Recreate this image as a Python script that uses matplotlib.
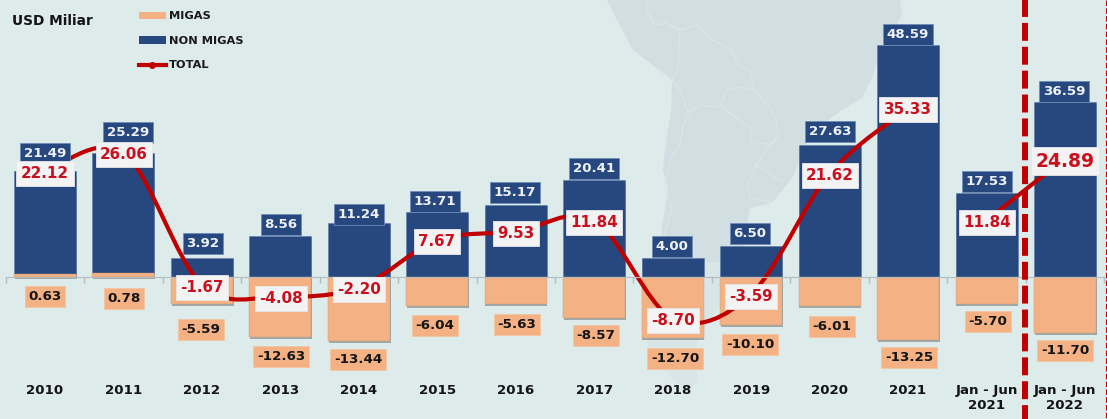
import matplotlib
matplotlib.use("Agg")
import matplotlib.pyplot as plt
import matplotlib.patheffects as pe
from matplotlib.path import Path
from matplotlib.patches import PathPatch, Polygon, Patch
from matplotlib.lines import Line2D
from matplotlib.transforms import Affine2D

categories = ["2010", "2011", "2012", "2013", "2014", "2015", "2016", "2017", "2018", "2019",
              "2020", "2021", "Jan - Jun\n2021", "Jan - Jun\n2022"]
migas = [0.63, 0.78, -5.59, -12.63, -13.44, -6.04, -5.63, -8.57, -12.70, -10.10, -6.01, -13.25, -5.70, -11.70]
non_migas = [21.49, 25.29, 3.92, 8.56, 11.24, 13.71, 15.17, 20.41, 4.00, 6.50, 27.63, 48.59, 17.53, 36.59]
total = [22.12, 26.06, -1.67, -4.08, -2.20, 7.67, 9.53, 11.84, -8.70, -3.59, 21.62, 35.33, 11.84, 24.89]

# label layout, in reference pixels
non_pos = [(45, 152), (128, 131), (203, 242), (281, 223), (359, 213), (435, 200), (515, 191),
           (594, 167), (672, 245), (750, 232), (830, 130), (908, 33), (987, 180), (1064, 90)]
mig_pos = [(45, 295), (124, 297), (201, 328), (281, 355), (358, 358), (435, 324), (517, 323),
           (596, 334), (675, 357), (750, 343), (832, 325), (909, 356), (988, 320), (1065, 349)]
tot_pos = [(45, 172), (124, 153), (202, 286), (281, 297), (359, 288), (437, 240), (516, 232),
           (594, 221), (673, 319), (751, 295), (830, 174), (908, 108), (987, 221), (1065, 159)]

W, H = 1107, 419
BG, MAP, MAP_LOW = "#DDEBEB", "#D1DFE3", "#D8E6E8"
NAVY, ORANGE, RED = "#27477F", "#F4B183", "#C00000"

fig = plt.figure(figsize=(W / 100, H / 100), dpi=100, facecolor=BG)
ax = fig.add_axes([0, 0, 1, 1], facecolor="none")
ax.set_xlim(-45 / 78.46, (W - 45) / 78.46)
ax.set_ylim(-(H - 277) / 4.77, 277 / 4.77)

px = Affine2D().scale(1, -1).translate(0, H)

# faint map decoration behind the chart
outline = [(607, 0), (617, 20), (633, 50), (650, 63), (672, 80), (671, 110), (665, 150), (663, 170),
           (668, 190), (664, 215), (660, 240), (650, 262),
           (742, 262), (746, 232), (750, 208), (772, 203), (792, 178), (812, 132), (842, 110), (862, 98),
           (872, 78), (882, 50), (902, 15), (900, 0)]
tail = [(650, 262), (645, 290), (640, 320), (650, 350), (668, 375), (688, 392), (698, 380), (694, 350),
        (708, 322), (728, 292), (742, 262)]
ax.add_patch(Polygon(outline, closed=True, transform=px, fc=MAP, ec="none", zorder=0))
ax.add_patch(Polygon(tail, closed=True, transform=px, fc=MAP_LOW, ec="none", zorder=0))
borders = [
    [(648, 0), (646, 10), (655, 25), (666, 23), (680, 30), (697, 25), (712, 40), (733, 50), (737, 65),
     (750, 70), (754, 90), (770, 108), (776, 118), (778, 134)],
    [(680, 30), (678, 70), (672, 80), (680, 90), (688, 112), (692, 110), (700, 105), (712, 107), (720, 106),
     (750, 128), (752, 142), (772, 145), (778, 135)],
    [(720, 106), (727, 90), (740, 87), (754, 90)],
    [(692, 112), (683, 125), (680, 145), (672, 155), (664, 185), (672, 210), (664, 235)],
    [(778, 135), (756, 165), (748, 185), (750, 198), (772, 202)],
    [(756, 165), (782, 182)],
]
for b in borders:
    xs, ys = zip(*b)
    ax.plot(xs, ys, transform=px, color="#DAE7E9", lw=0.9, zorder=0.5)

# axis at zero
for s in ["top", "left", "right"]:
    ax.spines[s].set_visible(False)
ax.spines["bottom"].set_position(("data", 0))
ax.spines["bottom"].set_bounds(-0.5, 13.5)
ax.spines["bottom"].set_color("#B3BDC0")
ax.spines["bottom"].set_zorder(4)
ax.yaxis.set_visible(False)
xs_idx = list(range(len(categories)))
ax.set_xticks([i - 0.5 for i in xs_idx] + [13.5])
ax.set_xticklabels([])
ax.tick_params(axis="x", which="major", length=4, width=1, color="#B3BDC0", direction="out")
ax.set_xticks(xs_idx, minor=True)
ax.set_xticklabels(categories, minor=True, fontsize=9.6, fontweight="bold", color="#141414",
                   linespacing=1.25)
ax.tick_params(axis="x", which="minor", length=0, pad=77)

# bars
shadow = [pe.SimplePatchShadow(offset=(0.5, -1.5), shadow_rgbFace="#555555", alpha=0.45), pe.Normal()]
bottoms = [max(m, 0) for m in migas]
b1 = ax.bar(xs_idx, non_migas, 0.79, bottom=bottoms, color=NAVY, edgecolor="#5C7BA8", lw=0.4, zorder=2)
b2 = ax.bar(xs_idx, migas, 0.79, color=ORANGE, edgecolor="#C49A80", lw=0.3, zorder=2.2)
for r in list(b1) + list(b2):
    r.set_path_effects(shadow)


def smooth(xv, yv):
    """Catmull-Rom segments through the data points."""
    verts, codes = [(xv[0], yv[0])], [Path.MOVETO]
    n = len(xv)
    for i in range(n - 1):
        p0 = i - 1 if i > 0 else i
        p3 = i + 2 if i + 2 < n else i + 1
        verts += [(xv[i] + (xv[i + 1] - xv[p0]) / 6, yv[i] + (yv[i + 1] - yv[p0]) / 6),
                  (xv[i + 1] - (xv[p3] - xv[i]) / 6, yv[i + 1] - (yv[p3] - yv[i]) / 6),
                  (xv[i + 1], yv[i + 1])]
        codes += [Path.CURVE4] * 3
    return Path(verts, codes)


for a, b in [(0, 12), (12, 14)]:
    ax.add_patch(PathPatch(smooth(xs_idx[a:b], total[a:b]), fc="none", ec=RED, lw=3, zorder=3,
                           capstyle="round"))


def label(i, val, pos, size, fc, ec, tc, pad):
    ax.annotate(f"{val:.2f}", xy=(i, val), xytext=(pos[0], H - pos[1]), textcoords="figure pixels",
                ha="center", va="center_baseline", fontsize=size, fontweight="bold", color=tc, zorder=6,
                bbox=dict(boxstyle=f"square,pad={pad}", fc=fc, ec=ec, lw=0.6))


for i in xs_idx:
    label(i, non_migas[i], non_pos[i], 9.6, NAVY, "#6F8DB8", "#EEF2F8", 0.28)
    label(i, migas[i], mig_pos[i], 9.7, ORANGE, "#F4C4A2", "#141414", 0.28)
    big = i == 13
    label(i, total[i], tot_pos[i], 13.5 if big else 10.9, "#F3F3F3", "#E4E8EA", "#C8101E", 0.26 if big else 0.3)

# separators
ax.plot([1025, 1025], [-5, H], transform=px, color=RED, lw=4.3, dashes=(3, 1), dash_capstyle="butt", zorder=5)
ax.plot([1106, 1106], [0, H], transform=px, color=RED, lw=0.8, dashes=(5, 2), zorder=5)

# title and legend
fig.text(12 / W, 1 - 21 / H, "USD Miliar", fontsize=9.9, fontweight="bold", color="#141414", va="center")
handles = [Patch(fc=ORANGE, ec="none"), Patch(fc=NAVY, ec="none"),
           Line2D([], [], color=RED, lw=3, marker="o", ms=4)]
leg = ax.legend(handles, ["MIGAS", "NON MIGAS", "TOTAL"], loc="upper left",
                bbox_to_anchor=(139 / W, 1 - 11.5 / H), bbox_transform=fig.transFigure, frameon=False,
                labelspacing=1.27, handlelength=2.35, handleheight=0.6, handletextpad=0.25,
                borderpad=0, borderaxespad=0, labelcolor="#1A1A1A",
                prop=dict(size=8.2, weight="bold"))
leg.set_zorder(7)

fig.savefig("out.png", dpi=100, facecolor=BG)
